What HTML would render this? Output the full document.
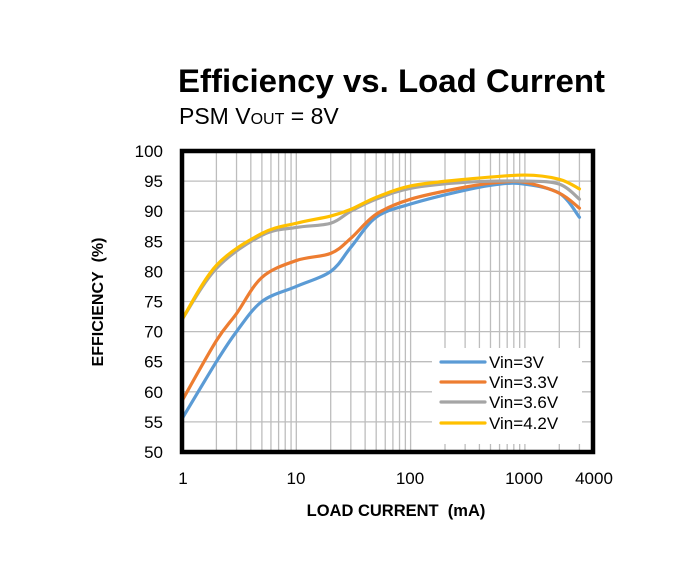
<!DOCTYPE html>
<html><head><meta charset="utf-8"><style>
body{margin:0;background:#fff;width:688px;height:568px;overflow:hidden}
svg text{font-family:"Liberation Sans",sans-serif;fill:#000}
</style></head><body>
<svg id="s" width="688" height="568" xmlns="http://www.w3.org/2000/svg">
<text x="178" y="92" font-size="32" font-weight="bold" textLength="427" lengthAdjust="spacingAndGlyphs">Efficiency vs. Load Current</text>
<text x="179" y="124" font-size="23">PSM V<tspan font-size="16">OUT</tspan> = 8V</text>
<g id="grid" stroke="#bdbdbd" stroke-width="1.3"></g>
<g id="curves" fill="none" stroke-width="3.2" stroke-linejoin="round" stroke-linecap="round"></g>
<rect x="182" y="151" width="411" height="301" fill="none" stroke="#000" stroke-width="4.5"/>
<g id="ylab" font-size="17" text-anchor="end"></g>
<g font-size="17" text-anchor="middle">
<text x="183" y="484">1</text><text x="296" y="484">10</text><text x="410" y="484">100</text><text x="524" y="484">1000</text><text x="594" y="484">4000</text>
</g>
<text x="396" y="516" font-size="16.5" font-weight="bold" text-anchor="middle">LOAD CURRENT&#160;&#160;(mA)</text>
<text transform="translate(103,302) rotate(-90)" font-size="16" font-weight="bold" text-anchor="middle">EFFICIENCY&#160;&#160;(%)</text>
<rect x="432" y="348" width="150" height="96" fill="#fff"/>
<g stroke-width="3.2" stroke-linecap="round">
<line x1="441" y1="362" x2="485" y2="362" stroke="#5b9bd5"/>
<line x1="441" y1="382" x2="485" y2="382" stroke="#ed7d31"/>
<line x1="441" y1="402" x2="485" y2="402" stroke="#a5a5a5"/>
<line x1="441" y1="423" x2="485" y2="423" stroke="#ffc000"/>
</g>
<g font-size="17">
<text x="489" y="368">Vin=3V</text><text x="489" y="388">Vin=3.3V</text><text x="489" y="408">Vin=3.6V</text><text x="489" y="429">Vin=4.2V</text>
</g>
</svg>
<script>
var X=function(v){return 182+Math.log10(v)*114.3},Y=function(p){return 452-(p-50)*6.02};
var g=document.getElementById('grid'),h='';
for(var k=1;k<10;k++){var y=Y(50+5*k);h+='<line x1="182" x2="593" y1="'+y+'" y2="'+y+'"/>';}
for(var d=1;d<=1000;d*=10)for(var m=1;m<10;m++){var v=d*m;if(v>4000)break;if(v==1)continue;var x=X(v);h+='<line y1="151" y2="452" x1="'+x+'" x2="'+x+'"/>';}
g.innerHTML=h;
var yl='';for(var p=50;p<=100;p+=5)yl+='<text x="163" y="'+(Y(p)+6)+'">'+p+'</text>';
document.getElementById('ylab').innerHTML=yl;
var S=[
['#5b9bd5',[[1,55.5],[2,65],[3,70],[5,75],[10,77.5],[20,80],[30,84],[50,89],[100,91.2],[300,93.5],[600,94.5],[1000,94.5],[2000,93],[3000,89]]],
['#ed7d31',[[1,58.5],[2,68.5],[3,73],[5,79],[10,81.8],[20,83],[30,85.5],[50,89.5],[100,92],[300,94],[600,94.8],[1000,94.8],[2000,93],[3000,90.5]]],
['#a5a5a5',[[1,72],[2,80.5],[5,86],[10,87.3],[20,88],[30,90],[50,92],[100,93.8],[300,94.8],[1000,95],[2000,94.5],[3000,92]]],
['#ffc000',[[1,72],[2,81],[5,86.3],[10,88],[20,89.2],[30,90.3],[50,92.3],[100,94.2],[300,95.3],[1000,96],[2000,95.3],[3000,93.7]]]];
var c='';S.forEach(function(s){var P=s[1].map(function(q){return [X(q[0]),Y(q[1])]});
var d='M'+P[0][0]+','+P[0][1];
for(var i=0;i<P.length-1;i++){var p0=P[i-1]||P[i],p1=P[i],p2=P[i+1],p3=P[i+2]||p2;
d+=' C'+(p1[0]+(p2[0]-p0[0])/6)+','+(p1[1]+(p2[1]-p0[1])/6)+' '+(p2[0]-(p3[0]-p1[0])/6)+','+(p2[1]-(p3[1]-p1[1])/6)+' '+p2[0]+','+p2[1];}
c+='<path stroke="'+s[0]+'" d="'+d+'"/>';});
document.getElementById('curves').innerHTML=c;
</script>
</body></html>
